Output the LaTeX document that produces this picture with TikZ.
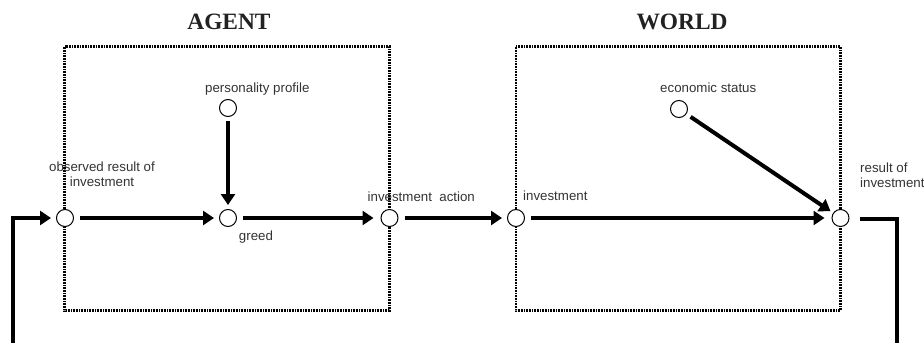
\documentclass[tikz,border=0pt]{standalone}
\usepackage{fontspec}
\setmainfont{Liberation Sans}
\newfontfamily\titlefont{Liberation Serif}
\usetikzlibrary{arrows.meta}
\definecolor{labelgray}{HTML}{333333}
\definecolor{titlegray}{HTML}{222222}
\begin{document}
\begin{tikzpicture}[x=1pt,y=-1pt,
  var/.style={circle,draw=black,fill=white,line width=1pt,minimum size=17pt,inner sep=0pt},
  frame/.style={draw=black,line width=2.6pt,dash pattern=on 1pt off 0.6pt},
  link/.style={line width=4pt,-{Triangle[length=11pt,width=14pt]},shorten <=6pt,shorten >=5pt},
  plain/.style={line width=4pt},
  lbl/.style={font=\fontsize{13.3}{15}\selectfont,text=labelgray,inner sep=0pt},
  ttl/.style={font=\titlefont\bfseries\fontsize{23.4}{26}\selectfont,text=titlegray,inner sep=0pt}]
\useasboundingbox (0,0) rectangle (924,343);

% titles
\node[ttl] (tagent) at (229,22) {AGENT};
\node[ttl] (tworld) at (682,22) {WORLD};

% frames of agent and world
\draw[frame] (64.5,46.5) rectangle (389.5,310.5);
\draw[frame] (516,46.5) rectangle (840.5,310.5);

% variables
\node[var] (obs)  at (65,218) {};
\node[var] (pers) at (228,108) {};
\node[var] (greed) at (228,218) {};
\node[var] (act)  at (389.5,218) {};
\node[var] (inv)  at (516,218) {};
\node[var] (eco)  at (679,109) {};
\node[var] (res)  at (840.5,218) {};

% labels
\node[lbl,anchor=base,align=center] (lobs) at (102,186.5) {observed result of\\investment};
\node[lbl,anchor=base west] (lpers) at (205,92) {personality profile};
\node[lbl,anchor=base] (lgreed) at (256,240) {greed};
\node[lbl,anchor=base west] (lact) at (367.5,201) {investment\ \ action};
\node[lbl,anchor=base west] (linv) at (523,200.5) {investment};
\node[lbl,anchor=base west] (leco) at (660,92) {economic status};
\node[lbl,anchor=base west,align=left] (lres) at (860,187) {result of\\investment};

% feedback loop corners
\coordinate (rc) at (897,219);
\coordinate (rb) at (897,343);
\coordinate (lb) at (13,343);
\coordinate (lc) at (13,218);

% influences
\draw[link] (obs) -- (greed);
\draw[link,shorten <=4pt,shorten >=4pt] (pers) -- (greed);
\draw[link,shorten >=7pt] (greed) -- (act);
\draw[link] (act) -- (inv);
\draw[link,shorten >=7pt] (inv) -- (res);
\draw[link,shorten <=5pt,shorten >=3pt] (eco) -- (res);

% feedback from the world back to the agent
\draw[plain,line cap=butt] ([xshift=10pt,yshift=-1pt]res.east) -- (rc) -- (rb);
\draw[link,shorten <=0pt] (lb) -- (lc) -- (obs);
\end{tikzpicture}
\end{document}
